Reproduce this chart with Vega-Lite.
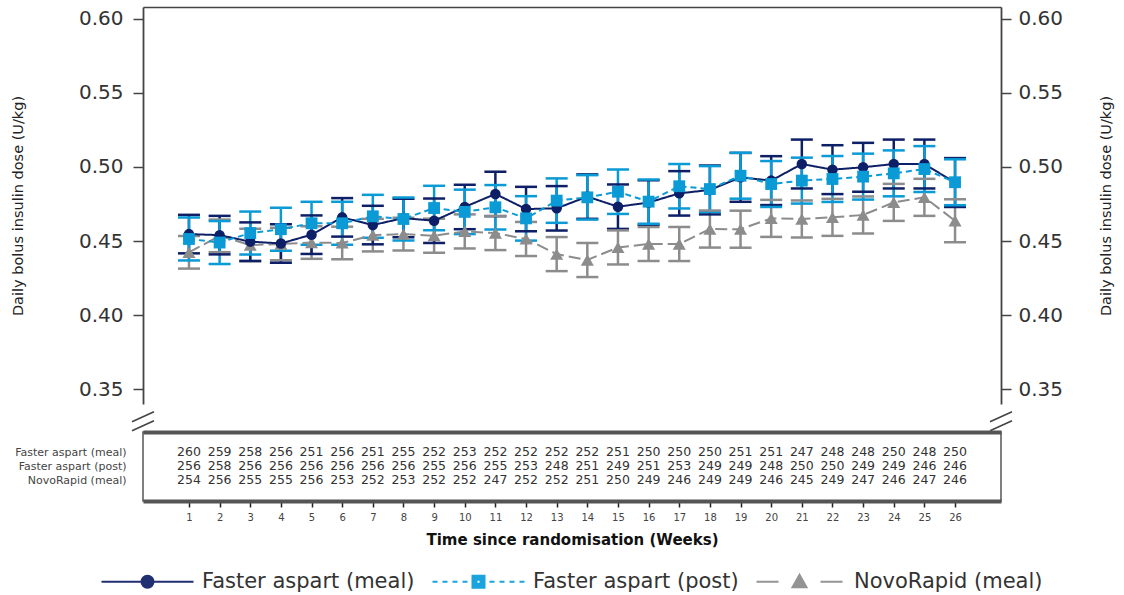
{
  "$schema": "https://vega.github.io/schema/vega-lite/v6.json",
  "padding": {"left": 10, "top": 7, "right": 5, "bottom": 5},
  "config": {"font": "DejaVu Sans", "view": {"stroke": null}, "axis": {"grid": false}},
  "datasets": {
    "stats": [
      {"week":1,"series":"NovoRapid (meal)","mean":0.4424,"lo":0.4314,"hi":0.4534},
      {"week":2,"series":"NovoRapid (meal)","mean":0.4535,"lo":0.4425,"hi":0.4645},
      {"week":3,"series":"NovoRapid (meal)","mean":0.4473,"lo":0.4363,"hi":0.4583},
      {"week":4,"series":"NovoRapid (meal)","mean":0.448,"lo":0.437,"hi":0.459},
      {"week":5,"series":"NovoRapid (meal)","mean":0.449,"lo":0.438,"hi":0.46},
      {"week":6,"series":"NovoRapid (meal)","mean":0.4487,"lo":0.4377,"hi":0.4597},
      {"week":7,"series":"NovoRapid (meal)","mean":0.454,"lo":0.443,"hi":0.465},
      {"week":8,"series":"NovoRapid (meal)","mean":0.4547,"lo":0.4437,"hi":0.4657},
      {"week":9,"series":"NovoRapid (meal)","mean":0.4536,"lo":0.4421,"hi":0.4651},
      {"week":10,"series":"NovoRapid (meal)","mean":0.4565,"lo":0.445,"hi":0.468},
      {"week":11,"series":"NovoRapid (meal)","mean":0.4554,"lo":0.4439,"hi":0.4669},
      {"week":12,"series":"NovoRapid (meal)","mean":0.4514,"lo":0.4399,"hi":0.4629},
      {"week":13,"series":"NovoRapid (meal)","mean":0.4412,"lo":0.4297,"hi":0.4527},
      {"week":14,"series":"NovoRapid (meal)","mean":0.4372,"lo":0.4257,"hi":0.4487},
      {"week":15,"series":"NovoRapid (meal)","mean":0.4457,"lo":0.4342,"hi":0.4572},
      {"week":16,"series":"NovoRapid (meal)","mean":0.448,"lo":0.4365,"hi":0.4595},
      {"week":17,"series":"NovoRapid (meal)","mean":0.448,"lo":0.4365,"hi":0.4595},
      {"week":18,"series":"NovoRapid (meal)","mean":0.4581,"lo":0.4456,"hi":0.4706},
      {"week":19,"series":"NovoRapid (meal)","mean":0.458,"lo":0.4455,"hi":0.4705},
      {"week":20,"series":"NovoRapid (meal)","mean":0.4653,"lo":0.4528,"hi":0.4778},
      {"week":21,"series":"NovoRapid (meal)","mean":0.4649,"lo":0.4524,"hi":0.4774},
      {"week":22,"series":"NovoRapid (meal)","mean":0.466,"lo":0.4535,"hi":0.4785},
      {"week":23,"series":"NovoRapid (meal)","mean":0.4676,"lo":0.4551,"hi":0.4801},
      {"week":24,"series":"NovoRapid (meal)","mean":0.4761,"lo":0.4636,"hi":0.4886},
      {"week":25,"series":"NovoRapid (meal)","mean":0.4795,"lo":0.467,"hi":0.492},
      {"week":26,"series":"NovoRapid (meal)","mean":0.4637,"lo":0.4492,"hi":0.4782},
      {"week":1,"series":"Faster aspart (meal)","mean":0.4547,"lo":0.4417,"hi":0.4677},
      {"week":2,"series":"Faster aspart (meal)","mean":0.454,"lo":0.441,"hi":0.467},
      {"week":3,"series":"Faster aspart (meal)","mean":0.4496,"lo":0.4366,"hi":0.4626},
      {"week":4,"series":"Faster aspart (meal)","mean":0.4484,"lo":0.4354,"hi":0.4614},
      {"week":5,"series":"Faster aspart (meal)","mean":0.4543,"lo":0.4413,"hi":0.4673},
      {"week":6,"series":"Faster aspart (meal)","mean":0.466,"lo":0.453,"hi":0.479},
      {"week":7,"series":"Faster aspart (meal)","mean":0.4608,"lo":0.4478,"hi":0.4738},
      {"week":8,"series":"Faster aspart (meal)","mean":0.4655,"lo":0.4525,"hi":0.4785},
      {"week":9,"series":"Faster aspart (meal)","mean":0.4637,"lo":0.4487,"hi":0.4787},
      {"week":10,"series":"Faster aspart (meal)","mean":0.473,"lo":0.458,"hi":0.488},
      {"week":11,"series":"Faster aspart (meal)","mean":0.4818,"lo":0.4668,"hi":0.4968},
      {"week":12,"series":"Faster aspart (meal)","mean":0.4716,"lo":0.4566,"hi":0.4866},
      {"week":13,"series":"Faster aspart (meal)","mean":0.4721,"lo":0.4571,"hi":0.4871},
      {"week":14,"series":"Faster aspart (meal)","mean":0.48,"lo":0.465,"hi":0.495},
      {"week":15,"series":"Faster aspart (meal)","mean":0.4732,"lo":0.4582,"hi":0.4882},
      {"week":16,"series":"Faster aspart (meal)","mean":0.476,"lo":0.461,"hi":0.491},
      {"week":17,"series":"Faster aspart (meal)","mean":0.4822,"lo":0.4672,"hi":0.4972},
      {"week":18,"series":"Faster aspart (meal)","mean":0.4845,"lo":0.468,"hi":0.501},
      {"week":19,"series":"Faster aspart (meal)","mean":0.493,"lo":0.4765,"hi":0.5095},
      {"week":20,"series":"Faster aspart (meal)","mean":0.4908,"lo":0.4743,"hi":0.5073},
      {"week":21,"series":"Faster aspart (meal)","mean":0.502,"lo":0.4855,"hi":0.5185},
      {"week":22,"series":"Faster aspart (meal)","mean":0.4982,"lo":0.4817,"hi":0.5147},
      {"week":23,"series":"Faster aspart (meal)","mean":0.4998,"lo":0.4833,"hi":0.5163},
      {"week":24,"series":"Faster aspart (meal)","mean":0.502,"lo":0.4855,"hi":0.5185},
      {"week":25,"series":"Faster aspart (meal)","mean":0.502,"lo":0.4855,"hi":0.5185},
      {"week":26,"series":"Faster aspart (meal)","mean":0.4895,"lo":0.473,"hi":0.506},
      {"week":1,"series":"Faster aspart (post)","mean":0.4514,"lo":0.4369,"hi":0.4659},
      {"week":2,"series":"Faster aspart (post)","mean":0.449,"lo":0.4345,"hi":0.4635},
      {"week":3,"series":"Faster aspart (post)","mean":0.4554,"lo":0.4409,"hi":0.4699},
      {"week":4,"series":"Faster aspart (post)","mean":0.458,"lo":0.4435,"hi":0.4725},
      {"week":5,"series":"Faster aspart (post)","mean":0.462,"lo":0.4475,"hi":0.4765},
      {"week":6,"series":"Faster aspart (post)","mean":0.462,"lo":0.4475,"hi":0.4765},
      {"week":7,"series":"Faster aspart (post)","mean":0.4667,"lo":0.4522,"hi":0.4812},
      {"week":8,"series":"Faster aspart (post)","mean":0.4649,"lo":0.4504,"hi":0.4794},
      {"week":9,"series":"Faster aspart (post)","mean":0.4723,"lo":0.4573,"hi":0.4873},
      {"week":10,"series":"Faster aspart (post)","mean":0.4697,"lo":0.4547,"hi":0.4847},
      {"week":11,"series":"Faster aspart (post)","mean":0.4728,"lo":0.4578,"hi":0.4878},
      {"week":12,"series":"Faster aspart (post)","mean":0.4653,"lo":0.4503,"hi":0.4803},
      {"week":13,"series":"Faster aspart (post)","mean":0.4773,"lo":0.4623,"hi":0.4923},
      {"week":14,"series":"Faster aspart (post)","mean":0.4795,"lo":0.4645,"hi":0.4945},
      {"week":15,"series":"Faster aspart (post)","mean":0.4833,"lo":0.4683,"hi":0.4983},
      {"week":16,"series":"Faster aspart (post)","mean":0.4766,"lo":0.4616,"hi":0.4916},
      {"week":17,"series":"Faster aspart (post)","mean":0.487,"lo":0.472,"hi":0.502},
      {"week":18,"series":"Faster aspart (post)","mean":0.4851,"lo":0.4696,"hi":0.5006},
      {"week":19,"series":"Faster aspart (post)","mean":0.4941,"lo":0.4786,"hi":0.5096},
      {"week":20,"series":"Faster aspart (post)","mean":0.4885,"lo":0.473,"hi":0.504},
      {"week":21,"series":"Faster aspart (post)","mean":0.4908,"lo":0.4753,"hi":0.5063},
      {"week":22,"series":"Faster aspart (post)","mean":0.4919,"lo":0.4764,"hi":0.5074},
      {"week":23,"series":"Faster aspart (post)","mean":0.4935,"lo":0.478,"hi":0.509},
      {"week":24,"series":"Faster aspart (post)","mean":0.4957,"lo":0.4802,"hi":0.5112},
      {"week":25,"series":"Faster aspart (post)","mean":0.4986,"lo":0.4831,"hi":0.5141},
      {"week":26,"series":"Faster aspart (post)","mean":0.4897,"lo":0.4742,"hi":0.5052}
    ],
    "counts": [
      {"week":1,"series":"Faster aspart (meal)","n":260},{"week":2,"series":"Faster aspart (meal)","n":259},{"week":3,"series":"Faster aspart (meal)","n":258},{"week":4,"series":"Faster aspart (meal)","n":256},{"week":5,"series":"Faster aspart (meal)","n":251},{"week":6,"series":"Faster aspart (meal)","n":256},{"week":7,"series":"Faster aspart (meal)","n":251},{"week":8,"series":"Faster aspart (meal)","n":255},{"week":9,"series":"Faster aspart (meal)","n":252},{"week":10,"series":"Faster aspart (meal)","n":253},{"week":11,"series":"Faster aspart (meal)","n":252},{"week":12,"series":"Faster aspart (meal)","n":252},{"week":13,"series":"Faster aspart (meal)","n":252},{"week":14,"series":"Faster aspart (meal)","n":252},{"week":15,"series":"Faster aspart (meal)","n":251},{"week":16,"series":"Faster aspart (meal)","n":250},{"week":17,"series":"Faster aspart (meal)","n":250},{"week":18,"series":"Faster aspart (meal)","n":250},{"week":19,"series":"Faster aspart (meal)","n":251},{"week":20,"series":"Faster aspart (meal)","n":251},{"week":21,"series":"Faster aspart (meal)","n":247},{"week":22,"series":"Faster aspart (meal)","n":248},{"week":23,"series":"Faster aspart (meal)","n":248},{"week":24,"series":"Faster aspart (meal)","n":250},{"week":25,"series":"Faster aspart (meal)","n":248},{"week":26,"series":"Faster aspart (meal)","n":250},
      {"week":1,"series":"Faster aspart (post)","n":256},{"week":2,"series":"Faster aspart (post)","n":258},{"week":3,"series":"Faster aspart (post)","n":256},{"week":4,"series":"Faster aspart (post)","n":256},{"week":5,"series":"Faster aspart (post)","n":256},{"week":6,"series":"Faster aspart (post)","n":256},{"week":7,"series":"Faster aspart (post)","n":256},{"week":8,"series":"Faster aspart (post)","n":256},{"week":9,"series":"Faster aspart (post)","n":255},{"week":10,"series":"Faster aspart (post)","n":256},{"week":11,"series":"Faster aspart (post)","n":255},{"week":12,"series":"Faster aspart (post)","n":253},{"week":13,"series":"Faster aspart (post)","n":248},{"week":14,"series":"Faster aspart (post)","n":251},{"week":15,"series":"Faster aspart (post)","n":249},{"week":16,"series":"Faster aspart (post)","n":251},{"week":17,"series":"Faster aspart (post)","n":253},{"week":18,"series":"Faster aspart (post)","n":249},{"week":19,"series":"Faster aspart (post)","n":249},{"week":20,"series":"Faster aspart (post)","n":248},{"week":21,"series":"Faster aspart (post)","n":250},{"week":22,"series":"Faster aspart (post)","n":250},{"week":23,"series":"Faster aspart (post)","n":249},{"week":24,"series":"Faster aspart (post)","n":249},{"week":25,"series":"Faster aspart (post)","n":246},{"week":26,"series":"Faster aspart (post)","n":246},
      {"week":1,"series":"NovoRapid (meal)","n":254},{"week":2,"series":"NovoRapid (meal)","n":256},{"week":3,"series":"NovoRapid (meal)","n":255},{"week":4,"series":"NovoRapid (meal)","n":255},{"week":5,"series":"NovoRapid (meal)","n":256},{"week":6,"series":"NovoRapid (meal)","n":253},{"week":7,"series":"NovoRapid (meal)","n":252},{"week":8,"series":"NovoRapid (meal)","n":253},{"week":9,"series":"NovoRapid (meal)","n":252},{"week":10,"series":"NovoRapid (meal)","n":252},{"week":11,"series":"NovoRapid (meal)","n":247},{"week":12,"series":"NovoRapid (meal)","n":252},{"week":13,"series":"NovoRapid (meal)","n":252},{"week":14,"series":"NovoRapid (meal)","n":251},{"week":15,"series":"NovoRapid (meal)","n":250},{"week":16,"series":"NovoRapid (meal)","n":249},{"week":17,"series":"NovoRapid (meal)","n":246},{"week":18,"series":"NovoRapid (meal)","n":249},{"week":19,"series":"NovoRapid (meal)","n":249},{"week":20,"series":"NovoRapid (meal)","n":246},{"week":21,"series":"NovoRapid (meal)","n":245},{"week":22,"series":"NovoRapid (meal)","n":249},{"week":23,"series":"NovoRapid (meal)","n":247},{"week":24,"series":"NovoRapid (meal)","n":246},{"week":25,"series":"NovoRapid (meal)","n":247},{"week":26,"series":"NovoRapid (meal)","n":246}
    ],
    "breaks": [{"x": -0.5, "y": 0.328}, {"x": 27.5, "y": 0.328}]
  },
  "vconcat": [
    {
      "width": 858,
      "height": 397,
      "view": {"stroke": null},
      "layer": [
        {
          "layer": [
            {
              "data": {"name": "stats"},
              "mark": {"type": "rule", "strokeWidth": 2.5},
              "encoding": {
                "x": {"field": "week", "type": "quantitative", "scale": {"domain": [-0.5, 27.5], "nice": false, "zero": false}, "axis": {"orient": "top", "labels": false, "ticks": false, "title": null, "domainColor": "#444", "domainWidth": 1.5}},
                "y": {"field": "lo", "type": "quantitative", "scale": {"domain": [0.34, 0.608], "nice": false, "zero": false},
                  "axis": {"orient": "left", "values": [0.35, 0.4, 0.45, 0.5, 0.55, 0.6], "format": ".2f", "labelFontSize": 20, "labelColor": "#333", "tickSize": 10, "tickColor": "#444", "tickWidth": 1.5, "labelPadding": 10, "domainColor": "#444", "domainWidth": 1.8, "title": "Daily bolus insulin dose (U/kg)", "titleFontSize": 14.5, "titleFontWeight": "normal", "titleColor": "#222", "titlePadding": 53}},
                "y2": {"field": "hi"},
                "color": {"field": "series", "type": "nominal", "scale": {"domain": ["Faster aspart (meal)", "Faster aspart (post)", "NovoRapid (meal)"], "range": ["#0d1f66", "#0a9ad6", "#8c8c8c"]}, "legend": null}
              }
            },
            {
              "data": {"name": "stats"},
              "mark": {"type": "tick", "orient": "horizontal", "size": 22, "thickness": 2.5, "opacity": 1},
              "encoding": {
                "x": {"field": "week", "type": "quantitative"},
                "y": {"field": "lo", "type": "quantitative"},
                "color": {"field": "series", "type": "nominal", "scale": {"domain": ["Faster aspart (meal)", "Faster aspart (post)", "NovoRapid (meal)"], "range": ["#0d1f66", "#0a9ad6", "#8c8c8c"]}, "legend": null}
              }
            },
            {
              "data": {"name": "stats"},
              "mark": {"type": "tick", "orient": "horizontal", "size": 22, "thickness": 2.5, "opacity": 1},
              "encoding": {
                "x": {"field": "week", "type": "quantitative"},
                "y": {"field": "hi", "type": "quantitative"},
                "color": {"field": "series", "type": "nominal", "scale": {"domain": ["Faster aspart (meal)", "Faster aspart (post)", "NovoRapid (meal)"], "range": ["#0d1f66", "#0a9ad6", "#8c8c8c"]}, "legend": null}
              }
            },
            {
              "data": {"name": "stats"},
              "mark": {"type": "line", "strokeWidth": 2},
              "encoding": {
                "x": {"field": "week", "type": "quantitative"},
                "y": {"field": "mean", "type": "quantitative"},
                "color": {"field": "series", "type": "nominal", "scale": {"domain": ["Faster aspart (meal)", "Faster aspart (post)", "NovoRapid (meal)"], "range": ["#0d1f66", "#0a9ad6", "#8c8c8c"]}, "legend": null},
                "strokeDash": {"field": "series", "type": "nominal", "scale": {"domain": ["Faster aspart (meal)", "Faster aspart (post)", "NovoRapid (meal)"], "range": [[1, 0], [6, 4], [12, 5]]}, "legend": null}
              }
            },
            {
              "data": {"name": "stats"},
              "mark": {"type": "point", "filled": true, "opacity": 1},
              "encoding": {
                "x": {"field": "week", "type": "quantitative"},
                "y": {"field": "mean", "type": "quantitative"},
                "color": {"field": "series", "type": "nominal", "scale": {"domain": ["Faster aspart (meal)", "Faster aspart (post)", "NovoRapid (meal)"], "range": ["#0d1f66", "#0a9ad6", "#8c8c8c"]}, "legend": null},
                "shape": {"field": "series", "type": "nominal", "scale": {"domain": ["Faster aspart (meal)", "Faster aspart (post)", "NovoRapid (meal)"], "range": ["circle", "square", "triangle-up"]}, "legend": null},
                "size": {"field": "series", "type": "nominal", "scale": {"domain": ["Faster aspart (meal)", "Faster aspart (post)", "NovoRapid (meal)"], "range": [110, 170, 120]}, "legend": null}
              }
            },
            {
              "data": {"name": "stats"},
              "mark": {"type": "point", "filled": false, "opacity": 0, "strokeWidth": 2},
              "encoding": {
                "x": {"field": "week", "type": "quantitative"},
                "y": {"field": "mean", "type": "quantitative"},
                "color": {"field": "series", "type": "nominal", "scale": {"domain": ["Faster aspart (meal)", "Faster aspart (post)", "NovoRapid (meal)"], "range": ["#1f2f72", "#1aa3dc", "#949494"]},
                  "legend": {"orient": "none", "legendX": -6, "legendY": 564, "direction": "horizontal", "title": null, "labelFontSize": 21, "labelColor": "#333", "labelLimit": 400, "symbolSize": 100, "symbolStrokeWidth": 2, "symbolOpacity": 1, "labelOffset": 44, "columnPadding": 13}},
                "shape": {"field": "series", "type": "nominal", "scale": {"domain": ["Faster aspart (meal)", "Faster aspart (post)", "NovoRapid (meal)"], "range": [
                    "M-9.2,0L9.2,0M1.2,0A1.2,1.2,0,1,1,-1.2,0A1.2,1.2,0,1,1,1.2,0M0.8,0A0.8,0.8,0,1,1,-0.8,0A0.8,0.8,0,1,1,0.8,0M0.4,0A0.4,0.4,0,1,1,-0.4,0A0.4,0.4,0,1,1,0.4,0",
                    "M-9.2,0L-8.2,0M-7.2,0L-6.2,0M-5.2,0L-4.2,0M-3.2,0L-2.2,0M2.2,0L3.2,0M4.2,0L5.2,0M6.2,0L7.2,0M8.2,0L9.2,0M-1.2,-1.2L1.2,-1.2L1.2,1.2L-1.2,1.2ZM-0.8,-0.8L0.8,-0.8L0.8,0.8L-0.8,0.8ZM-0.4,-0.4L0.4,-0.4L0.4,0.4L-0.4,0.4Z",
                    "M-8.6,0L-4.2,0M4.2,0L8.6,0M0,-1.4L1.4,1.1L-1.4,1.1ZM0,-0.75L0.8,0.75L-0.8,0.75ZM0,-0.1L0.3,0.45L-0.3,0.45Z"]},
                  "legend": {"orient": "none", "legendX": -6, "legendY": 564, "direction": "horizontal", "title": null, "labelFontSize": 21, "labelColor": "#333", "labelLimit": 400, "symbolSize": 100, "symbolStrokeWidth": 2, "symbolOpacity": 1, "labelOffset": 44, "columnPadding": 13}}
              }
            }
          ],
          "resolve": {"scale": {"color": "independent", "shape": "independent"}}
        },
        {
          "data": {"name": "breaks"},
          "mark": {"type": "point", "shape": "M-1.83,0L1.83,-1.67M-1.83,1.5L1.83,-0.17", "size": 144, "filled": false, "stroke": "#444", "strokeWidth": 1.6, "opacity": 1},
          "encoding": {
            "x": {"field": "x", "type": "quantitative", "axis": {"orient": "top", "labels": false, "ticks": false, "title": null, "domainColor": "#444", "domainWidth": 1.5}},
            "y": {"field": "y", "type": "quantitative", "scale": {"domain": [0.34, 0.608], "nice": false, "zero": false},
              "axis": {"orient": "right", "values": [0.35, 0.4, 0.45, 0.5, 0.55, 0.6], "format": ".2f", "labelFontSize": 20, "labelColor": "#333", "tickSize": 10, "tickColor": "#444", "tickWidth": 1.5, "labelPadding": 7, "domainColor": "#444", "domainWidth": 1.8, "title": "Daily bolus insulin dose (U/kg)", "titleAngle": 270, "titleFontSize": 14.5, "titleFontWeight": "normal", "titleColor": "#222", "titlePadding": 51}}
          }
        }
      ],
      "resolve": {"scale": {"y": "independent"}}
    },
    {
      "width": 858,
      "height": 69,
      "view": {"stroke": "#555", "strokeWidth": 1.5},
      "layer": [
        {
          "data": {"name": "counts"},
          "mark": {"type": "text", "fontSize": 12.5, "color": "#333", "align": "center", "baseline": "middle"},
          "encoding": {
            "x": {"field": "week", "type": "quantitative", "scale": {"domain": [-0.5, 27.5], "nice": false, "zero": false},
              "axis": {"orient": "bottom", "values": [1,2,3,4,5,6,7,8,9,10,11,12,13,14,15,16,17,18,19,20,21,22,23,24,25,26], "tickSize": 6, "tickWidth": 1.5, "tickColor": "#222", "labelFontSize": 10, "labelColor": "#444", "labelPadding": 5, "domainWidth": 4, "domainColor": "#555", "title": "Time since randomisation (Weeks)", "titleFontSize": 15, "titleFontWeight": "bold", "titleColor": "#111", "titlePadding": 10}},
            "y": {"field": "series", "type": "nominal", "scale": {"type": "point", "padding": 0, "range": [20, 48], "domain": ["Faster aspart (meal)", "Faster aspart (post)", "NovoRapid (meal)"]},
              "axis": {"orient": "left", "ticks": false, "domain": false, "labelFontSize": 11, "labelColor": "#444", "labelPadding": 17, "title": null}},
            "text": {"field": "n", "type": "quantitative"}
          }
        },
        {
          "data": {"name": "counts"},
          "mark": {"type": "text", "opacity": 0},
          "encoding": {
            "x": {"field": "week", "type": "quantitative", "scale": {"domain": [-0.5, 27.5], "nice": false, "zero": false},
              "axis": {"orient": "top", "labels": false, "ticks": false, "title": null, "domainWidth": 4, "domainColor": "#555"}},
            "text": {"field": "n", "type": "quantitative"}
          }
        }
      ],
      "resolve": {"scale": {"x": "independent"}}
    }
  ],
  "spacing": 28,
  "bounds": "flush"
}
